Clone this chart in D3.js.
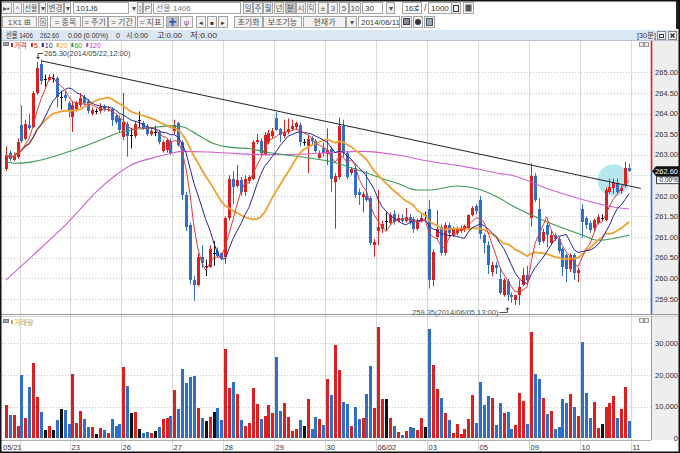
<!DOCTYPE html>
<html><head><meta charset="utf-8">
<script src="https://cdn.jsdelivr.net/npm/d3@7"></script>
<style>body{margin:0;background:#fff}svg{display:block}</style>
</head><body><svg id="c" width="680" height="453"></svg>
<script>
// ---------------- DATA ----------------
const dayLabels = ["05/21","05/22","23","26","27","28","29","30","06/02","03","05","09","10","11"];
const dayStarts = [0,4,17,30,43,56,69,82,95,108,121,134,147,160];

const opens = [262.65,263.05,262.88,262.95,263.72,263.38,263.72,263.68,264.50,265.20,
264.85,264.82,264.87,264.87,264.40,264.45,264.25,263.92,264.10,264.20,
264.40,264.30,264.00,264.05,264.05,264.18,264.08,264.10,263.95,263.90,
263.42,263.75,263.48,263.45,263.85,263.78,263.70,263.50,263.55,263.55,
263.10,263.12,263.33,263.57,263.76,263.30,262.02,261.29,259.95,259.83,
260.52,260.30,260.28,260.62,260.65,260.60,260.52,261.45,262.42,262.25,
262.38,262.10,262.35,262.42,263.30,263.33,263.00,263.30,263.45,263.88,
263.62,263.45,263.54,263.62,263.68,263.73,263.30,263.22,263.40,263.33,
262.93,263.15,263.01,263.13,262.34,262.46,263.70,263.03,262.55,262.67,
262.10,261.98,262.00,261.94,260.80,261.14,261.20,261.40,261.33,261.57,
261.40,261.47,261.40,261.49,261.43,261.20,261.38,261.53,261.67,259.95,
261.00,261.25,260.60,261.29,261.05,261.10,261.15,261.18,261.21,261.53,
261.75,261.90,261.05,260.80,260.15,260.32,259.98,259.60,259.93,259.60,
259.48,259.59,259.83,260.08,261.45,262.49,261.68,260.90,261.30,260.85,
261.05,260.95,260.70,260.56,260.23,260.56,260.12,261.69,261.45,261.33,
261.21,261.33,261.45,261.41,262.10,262.20,262.30,262.12,262.26,262.67];
const highs = [263.20,263.10,263.05,263.40,264.20,263.85,264.00,264.55,265.25,265.30,
264.95,264.95,264.95,264.90,264.55,264.55,264.30,264.30,264.30,264.50,
264.45,264.35,264.15,264.12,264.25,264.22,264.18,264.15,264.00,263.95,
264.50,263.80,263.65,263.80,264.05,263.82,263.75,263.62,263.70,263.60,
263.35,263.40,263.40,263.85,263.80,263.35,262.10,261.35,260.05,260.60,
260.80,260.45,260.80,260.90,260.75,260.62,261.50,262.50,262.60,262.75,
262.45,262.50,262.50,263.35,263.50,263.40,263.55,263.60,263.65,264.03,
263.65,263.85,263.88,263.85,263.80,263.78,263.38,263.48,263.45,263.38,
263.10,263.30,263.64,263.20,262.55,263.90,263.85,263.10,262.70,262.75,
262.18,262.10,262.60,262.00,260.95,262.15,261.40,261.60,261.60,261.65,
261.55,261.55,261.70,261.55,261.48,261.45,261.55,261.62,261.90,260.70,
261.65,261.30,261.35,261.35,261.25,261.25,261.28,261.30,261.55,261.75,
261.80,262.00,261.10,260.90,260.40,260.40,260.25,260.00,259.98,259.65,
259.60,259.95,260.25,260.30,262.79,262.55,261.94,261.20,261.35,261.15,
261.10,261.00,260.75,260.60,260.60,260.60,260.25,261.80,261.50,261.40,
261.45,261.55,261.55,262.20,262.42,262.42,262.42,262.25,262.83,262.78];
const lows = [262.60,262.85,262.85,262.90,263.28,263.35,263.60,263.65,264.45,264.70,
264.65,264.80,264.75,264.15,264.10,264.30,263.90,263.55,264.05,264.15,
264.20,264.00,263.95,263.98,264.00,264.05,264.05,263.70,263.75,263.55,
263.35,262.95,263.15,263.40,263.65,263.60,263.45,263.45,263.45,263.25,
263.05,263.05,263.00,263.50,263.20,261.90,261.15,259.85,259.45,259.80,
260.25,260.05,260.25,260.30,260.50,260.45,260.35,261.40,261.80,262.20,
262.00,262.00,262.30,262.38,263.25,263.00,262.98,263.25,263.40,263.58,
263.30,263.40,263.50,263.60,263.60,263.20,263.22,262.55,263.25,263.05,
262.90,262.95,262.75,262.10,261.20,262.40,262.95,262.40,262.50,261.95,
261.78,261.60,261.85,260.80,260.52,260.80,261.10,261.15,261.30,261.30,
261.35,261.35,261.35,261.30,261.10,261.15,261.35,261.42,259.75,259.80,
260.95,260.55,260.55,261.00,261.00,261.05,261.10,261.12,261.18,261.50,
261.55,260.95,260.60,260.10,260.05,260.10,259.60,259.55,259.45,259.40,
259.35,259.35,259.80,259.90,261.25,261.85,260.80,260.85,260.75,260.80,
260.90,260.60,260.05,259.90,260.15,259.95,259.90,260.98,261.20,261.10,
261.15,261.30,261.40,261.38,262.05,262.05,262.05,262.05,262.20,262.58];
const closes = [262.99,262.90,262.98,263.30,263.33,263.75,263.65,264.50,265.10,264.78,
264.85,264.88,264.87,264.40,264.40,264.38,264.05,264.20,264.25,264.38,
264.25,264.05,264.08,264.05,264.15,264.10,264.12,263.85,263.80,263.60,
263.80,263.45,263.48,263.75,263.85,263.65,263.50,263.58,263.55,263.30,
263.30,263.35,263.03,263.73,263.23,262.02,261.25,259.95,259.83,260.52,
260.36,260.30,260.72,260.62,260.55,260.50,261.45,262.42,262.22,262.38,
262.10,262.42,262.45,263.30,263.35,263.03,263.48,263.52,263.57,263.60,
263.48,263.54,263.62,263.70,263.76,263.30,263.30,263.38,263.32,263.10,
263.05,263.03,263.11,262.42,262.48,263.70,263.03,262.46,262.64,262.02,
262.02,262.04,261.90,260.85,260.87,261.25,261.32,261.40,261.53,261.37,
261.47,261.39,261.49,261.37,261.20,261.40,261.47,261.53,259.95,260.64,
261.20,260.60,261.29,261.09,261.19,261.20,261.22,261.26,261.53,261.71,
261.62,261.08,260.85,260.32,260.32,260.24,259.64,259.95,259.59,259.55,
259.58,259.79,260.08,259.96,262.49,261.90,260.88,261.13,261.05,261.05,
260.95,260.67,260.27,260.23,260.56,260.12,260.20,261.37,261.29,261.17,
261.41,261.49,261.45,262.14,262.22,262.30,262.10,262.18,262.67,262.60];
const volumes = [10500,7400,7400,4000,20000,6300,16100,23900,12900,8200,
2600,4000,2600,5800,9300,8900,4500,20300,4900,8700,
6100,3500,3500,1300,3200,2600,1800,6100,3900,4500,
22600,16500,7900,8200,2900,1800,2100,1800,2400,3600,
6100,6300,7100,15100,9200,21900,17600,19300,19700,9700,
6500,5500,6800,8400,9500,5800,28200,15800,17800,14000,
5800,3900,4700,15800,10800,6100,7100,10400,7900,25800,
8600,11100,6600,2300,2900,5800,3900,12400,2900,6600,
6000,4200,18800,13600,29500,21600,11600,10800,3900,9800,
6000,6300,13900,22900,9700,35000,12300,12300,6500,3900,
1900,1200,2400,3500,3300,2600,6300,3500,34400,23200,
15700,12600,7900,5800,1800,4500,1300,2800,6100,13800,
4700,17700,10500,13400,12800,4200,11100,7900,8200,2800,
4200,14200,11900,4400,33700,20200,18800,12600,7600,8600,
2900,3700,12400,11100,14000,10000,7100,30500,14400,6300,
11600,3400,4500,9900,11100,13400,6300,9200,16300,5500];
// longer moving averages as [bar index, value]
const ma60Pts = [[0,262.83],[3,262.79],[7,262.83],[16,263.07],[24,263.35],[29,263.54],[32,263.60],[37,263.65],[42,263.70],[45,263.68],[49,263.48],[53,263.27],[58,263.17],[62,263.15],[66,263.07],[75,262.95],[83,262.83],[91,262.59],[96,262.42],[100,262.30],[105,262.14],[108,262.14],[115,262.24],[120,262.18],[126,261.94],[129,261.77],[138,261.37],[147,261.05],[151,260.92],[159,261.05]];
const ma120Pts = [[0,259.95],[7,260.56],[16,261.37],[24,262.18],[28,262.50],[32,262.75],[37,262.91],[42,263.03],[45,263.08],[53,263.06],[66,263.00],[75,263.01],[83,263.05],[91,263.08],[100,262.99],[108,262.84],[117,262.71],[121,262.64],[126,262.54],[129,262.50],[138,262.18],[146,261.94],[155,261.73],[159,261.68]];
const priceTicks = [259.5,260.0,260.5,261.0,261.5,262.0,262.5,263.0,263.5,264.0,264.5,265.0];
const volTicks = [0,10000,20000,30000];
const trendPts = [[9,265.28],[162,262.18]];
const highNote = {idx:9, price:265.30, text:"265.30(2014/05/22,12:00)"};
const lowNote = {idx:130, price:259.35, text:"259.35(2014/06/05,13:00)"};
const focusMark = {idx:155, price:262.38};
const maPeriods = [5,10,20];
const legendItems = [["가격","#d01818"],["5","#e02020"],["10","#2020a0"],["20","#f0a020"],["60","#2a9a4a"],["120","#c040c0"]];

// ---------------- SETUP ----------------
const FONT = '"Liberation Sans","Noto Sans CJK KR",sans-serif';
const RED="#dc2020", BLUE="#2f6fc8", BLK="#111";
const svg = d3.select("#c").attr("font-family", FONT);
svg.append("rect").attr("width",680).attr("height",453).attr("fill","#fff");
const defs = svg.append("defs");
defs.append("clipPath").attr("id","cp").append("rect").attr("x",2).attr("y",40).attr("width",649).attr("height",274);
defs.append("clipPath").attr("id","cv").append("rect").attr("x",2).attr("y",316).attr("width",649).attr("height",124);

const N = closes.length;
const x = d3.scaleLinear().domain([0, N-1]).range([5.8, 5.8 + 3.92*(N-1)]);
const y = d3.scaleLinear().domain([259.2, 265.8]).range([311.1, 39.4]);
const yv = d3.scaleLinear().domain([0, 38000]).range([438.3, 318]);
const data = closes.map((c,i)=>({i, o:opens[i], h:highs[i], l:lows[i], c, v:volumes[i]}));
const colOf = d => d.c > d.o ? RED : (d.c < d.o ? BLUE : BLK);

// ---------------- TOOLBAR ----------------
function fitText(t, maxw){ const w=t.node().getComputedTextLength(); if(w>maxw) t.attr("textLength",maxw).attr("lengthAdjust","spacingAndGlyphs"); }
function btn(x0,y0,w,h,label,opt={}){
  const g = svg.append("g");
  g.append("rect").attr("x",x0+.5).attr("y",y0+.5).attr("width",w-1).attr("height",h-1)
    .attr("fill", opt.input?"#fff":(opt.pressed?"#c2c2c2":"#f2f2f2")).attr("stroke", opt.nob?"none":"#a4a4a4");
  if(label){
    const t = g.append("text").attr("x", opt.input? x0+3 : x0+w/2).attr("y", y0+h/2+3)
      .attr("text-anchor", opt.input?"start":"middle").attr("font-size", opt.fs||8).attr("fill", opt.color||"#555").text(label);
    fitText(t, w-(opt.pad||3));
  }
  return g;
}
const row1=[[1,11,"▸▪"],[13,9,"^"],[23,16,"선물"],[39,7,"▾"],[47,17,"변경"],[64,7,"▾"],[73,56,"101J6",{input:1,color:"#333"}],[130,7,"▾",{nob:1}],[137,6,"Q"],[143,9,"P"],[153,88,"선물 1406",{input:1,color:"#777"}],
 [243,10,"일"],[253,10,"주"],[263,10,"월"],[274,10,"년"],[285,11,"분",{pressed:1}],[296,10,"시"],[307,9,"틱"],[318,10,"±"],[328,10,"3"],[339,10,"5"],[349,12,"10"],[362,21,"30",{input:1,color:"#333"}],[386,9,"▾"],[402,20,"163",{input:1,color:"#333",pad:8}],[428,24,"1000",{input:1,color:"#333"}],[451,10,"",{}],[463,11,"",{}]];
row1.forEach(b=>btn(b[0],2,b[1],12,b[2],b[3]||{}));
svg.append("text").attr("x",424).attr("y",11).attr("font-size",9).attr("fill","#555").text("/");
svg.append("path").attr("d","M416,7 l3,0 l-1.5,-2.5z M416,9 l3,0 l-1.5,2.5z").attr("fill","#555");
svg.append("rect").attr("x",453.5).attr("y",5.5).attr("width",5).attr("height",6).attr("fill","none").attr("stroke","#333");
svg.append("rect").attr("x",465.5).attr("y",4.5).attr("width",6).attr("height",7).attr("fill","#555");
const row2=[[2,35,"1X1  ⊞"],[38,10,"⊠"],[50,31,"= 종목"],[82,26,"= 주기"],[108,28,"= 기간"],[137,27,"= 지표"],[166,13,"✚",{pressed:1,color:"#2a5cc0"}],[180,13,"ψ",{color:"#668"}],[196,10,"◂",{color:"#333",fs:7}],[207,10,"■",{color:"#333",fs:6}],[218,10,"▸",{color:"#333",fs:7}],
 [234,29,"초기화"],[263,39,"보조기능"],[303,43,"현재가"],[346,11,"▾"],[358,42,"2014/06/11",{input:1,color:"#333"}],[401,11,""],[413,10,""],[424,11,""]];
row2.forEach(b=>btn(b[0],16,b[1],12,b[2],b[3]||{}));
svg.append("rect").attr("x",403.5).attr("y",18.5).attr("width",6).attr("height",6).attr("fill","#889").attr("stroke","#445");
svg.append("circle").attr("cx",418).attr("cy",22).attr("r",3).attr("fill","#333");
svg.append("rect").attr("x",426.5).attr("y",18.5).attr("width",6).attr("height",7).attr("fill","#9ab").attr("stroke","#456");
svg.append("rect").attr("x",676).attr("y",0).attr("width",4).attr("height",29).attr("fill","#222");

// info row
svg.append("rect").attr("x",0).attr("y",30).attr("width",680).attr("height",10).attr("fill","#dce7f4");
svg.append("line").attr("x1",0).attr("x2",680).attr("y1",40.5).attr("y2",40.5).attr("stroke","#b8c4d2");
const lastC = closes[N-1];
const info=[[6,"선물 1406",27],[40,lastC.toFixed(2),19],[68,"0.00 (0.00%)",40],[116,"0",4],[126,"시:0.00",22],[157,"고:0.00",25],[190,"저:0.00",27]];
info.forEach(d=>{ const t=svg.append("text").attr("x",d[0]).attr("y",38.3).attr("font-size",8).attr("fill","#333").text(d[1]); t.attr("textLength",d[2]).attr("lengthAdjust","spacingAndGlyphs"); });
{ const t=svg.append("text").attr("x",637).attr("y",38.3).attr("font-size",8).attr("fill","#333").text("[30분]"); fitText(t,19);
  svg.append("rect").attr("x",657.5).attr("y",31.5).attr("width",8).attr("height",8).attr("fill","#f4f4f4").attr("stroke","#888");
  svg.append("rect").attr("x",659.5).attr("y",34.5).attr("width",4).attr("height",3).attr("fill","none").attr("stroke","#333");
  svg.append("rect").attr("x",668.5).attr("y",31.5).attr("width",8).attr("height",8).attr("fill","#f4f4f4").attr("stroke","#888");
  svg.append("path").attr("d","M670.5,33.5 l4,4 M674.5,33.5 l-4,4").attr("stroke","#222").attr("stroke-width",1.2); }

// ---------------- AXIS AREAS ----------------
svg.append("rect").attr("x",651).attr("y",41).attr("width",28).attr("height",399).attr("fill","#eeeeee");
const boundX = dayStarts.slice(1).map(s=>x(s-0.5));
svg.append("g").selectAll("line").data(boundX).join("line")
  .attr("x1",d=>Math.round(d)+.5).attr("x2",d=>Math.round(d)+.5).attr("y1",41).attr("y2",451)
  .attr("stroke","#d8d8d8");
svg.append("g").selectAll("line").data(priceTicks).join("line")
  .attr("x1",2).attr("x2",651).attr("y1",d=>Math.round(y(d))+.5).attr("y2",d=>Math.round(y(d))+.5)
  .attr("stroke","#c8c8c8").attr("stroke-dasharray","1,2");
svg.append("g").selectAll("line").data(volTicks.slice(1)).join("line")
  .attr("x1",2).attr("x2",651).attr("y1",d=>Math.round(yv(d))+.5).attr("y2",d=>Math.round(yv(d))+.5)
  .attr("stroke","#c8c8c8").attr("stroke-dasharray","1,2");
svg.append("line").attr("x1",1).attr("x2",680).attr("y1",314.5).attr("y2",314.5).attr("stroke","#9a9a9a");
svg.append("line").attr("x1",1).attr("x2",680).attr("y1",316.5).attr("y2",316.5).attr("stroke","#d0d0d0");
svg.append("line").attr("x1",1).attr("x2",651).attr("y1",440.5).attr("y2",440.5).attr("stroke","#b0b0b0");

// ---------------- PRICE PANEL ----------------
const gp = svg.append("g").attr("clip-path","url(#cp)");
gp.append("circle").attr("cx",x(focusMark.idx)).attr("cy",y(focusMark.price)).attr("r",16).attr("fill","#a9e3ec").attr("opacity",0.85);
const cg = gp.append("g");
cg.selectAll("line").data(data).join("line")
  .attr("x1",d=>Math.round(x(d.i))+.5).attr("x2",d=>Math.round(x(d.i))+.5)
  .attr("y1",d=>y(d.h)).attr("y2",d=>y(d.l)).attr("stroke",colOf);
cg.selectAll("rect").data(data).join("rect")
  .attr("x",d=>Math.round(x(d.i))-1).attr("width",3)
  .attr("y",d=>Math.min(y(d.o),y(d.c))).attr("height",d=>Math.max(1,Math.abs(y(d.o)-y(d.c))))
  .attr("fill",colOf).attr("shape-rendering","crispEdges");
const line = d3.line().x(d=>x(d[0])).y(d=>y(d[1]));
const maColors = {5:"#e03a3a",10:"#25259a",20:"#f0a030"};
gp.append("path").datum(ma120Pts).attr("d",line.curve(d3.curveMonotoneX)).attr("fill","none").attr("stroke","#d060d0").attr("stroke-width",1.1);
gp.append("path").datum(ma60Pts).attr("d",line.curve(d3.curveMonotoneX)).attr("fill","none").attr("stroke","#3a9a55").attr("stroke-width",1.1);
maPeriods.slice().reverse().forEach(n=>{
  const vals = closes.map((c,i)=>[i, d3.mean(closes.slice(Math.max(0,i-n+1), i+1))]);
  gp.append("path").datum(vals).attr("d",line.curve(d3.curveLinear)).attr("fill","none")
    .attr("stroke",maColors[n]).attr("stroke-width", n===20?1.8:1);
});
gp.append("line").attr("x1",x(trendPts[0][0])).attr("y1",y(trendPts[0][1])).attr("x2",x(trendPts[1][0])).attr("y2",y(trendPts[1][1]))
  .attr("stroke","#222").attr("stroke-width",1);
// high / low annotations
{ const hx=x(highNote.idx), hy=y(highNote.price);
  svg.append("path").attr("d",`M${hx+2},${hy-6.5} H${hx-3} V${hy-2.5}`).attr("fill","none").attr("stroke","#444");
  svg.append("path").attr("d",`M${hx-5},${hy-3} h4 l-2,2.5z`).attr("fill","#444");
  svg.append("text").attr("x",hx+3).attr("y",hy-3.6).attr("font-size",7.5).attr("fill","#444").text(highNote.text);
  const lx=x(lowNote.idx), ly=y(lowNote.price);
  svg.append("text").attr("x",lx-17).attr("y",ly+10).attr("text-anchor","end").attr("font-size",7.5).attr("fill","#555").text(lowNote.text);
  svg.append("path").attr("d",`M${lx-16},${ly+7.5} H${lx-8} V${ly+4}`).attr("fill","none").attr("stroke","#444");
  svg.append("path").attr("d",`M${lx-10},${ly+4.5} h4 l-2,-2.5z`).attr("fill","#444"); }
// legend
{ svg.append("rect").attr("x",3.5).attr("y",42.5).attr("width",5).attr("height",3).attr("fill","#9aa").attr("stroke","#778");
  let lx=11;
  legendItems.forEach(([t,c])=>{
    svg.append("rect").attr("x",lx).attr("y",43).attr("width",2).attr("height",4).attr("fill",c);
    const tt=svg.append("text").attr("x",lx+3).attr("y",47.5).attr("font-size",7).attr("fill",c).text(t);
    lx += 3 + tt.node().getComputedTextLength() + 4;
  });
  [639,644].forEach(px=>svg.append("rect").attr("x",px+.5).attr("y",42.5).attr("width",4).attr("height",4).attr("fill","#eee").attr("stroke","#999"));
  [639,644].forEach(px=>svg.append("rect").attr("x",px+.5).attr("y",318.5).attr("width",4).attr("height",4).attr("fill","#eee").attr("stroke","#999"));
}
// price axis
const yl = y(lastC);
svg.append("line").attr("x1",651.5).attr("x2",651.5).attr("y1",41).attr("y2",yl).attr("stroke","#e02020").attr("stroke-width",1.6);
svg.append("line").attr("x1",651.5).attr("x2",651.5).attr("y1",yl).attr("y2",314).attr("stroke","#2f6fc8").attr("stroke-width",1.6);
svg.append("line").attr("x1",651.5).attr("x2",651.5).attr("y1",316).attr("y2",440).attr("stroke","#999");
// tick labels hidden behind the current-price tag are not drawn (as in the reference)
svg.append("g").selectAll("text").data(priceTicks.filter(t=>Math.abs(y(t)-yl-3)>10)).join("text")
  .attr("x",678).attr("y",d=>y(d)+2.8).attr("text-anchor","end").attr("font-size",7.5).attr("fill","#333").text(d=>d.toFixed(2));
svg.append("path").attr("d",`M652,${yl} L656,${yl-5} H680 V${yl+5} H656 Z`).attr("fill","#111");
svg.append("text").attr("x",678).attr("y",yl+2.8).attr("text-anchor","end").attr("font-size",7.5).attr("fill","#fff").text(lastC.toFixed(2));
svg.append("rect").attr("x",656.5).attr("y",yl+5.5).attr("width",23).attr("height",7).attr("fill","#fff").attr("stroke","#444");
svg.append("text").attr("x",678).attr("y",yl+11.3).attr("text-anchor","end").attr("font-size",6.5).attr("fill","#222").text("0.00%");

// ---------------- VOLUME PANEL ----------------
const gv = svg.append("g").attr("clip-path","url(#cv)");
gv.selectAll("rect").data(data).join("rect")
  .attr("x",d=>Math.round(x(d.i))-1).attr("width",3)
  .attr("y",d=>yv(d.v)).attr("height",d=>yv(0)-yv(d.v)).attr("fill",colOf).attr("shape-rendering","crispEdges");
svg.append("g").selectAll("text").data(volTicks).join("text")
  .attr("x",678).attr("y",d=>yv(d)+2.8).attr("text-anchor","end").attr("font-size",7.5).attr("fill","#333").text(d3.format(","));
svg.append("rect").attr("x",3.5).attr("y",319.5).attr("width",5).attr("height",3).attr("fill","#9aa").attr("stroke","#778");
svg.append("rect").attr("x",11).attr("y",320).attr("width",2).attr("height",4).attr("fill","#c8b040");
svg.append("text").attr("x",14).attr("y",325).attr("font-size",7).attr("fill","#c0a838").text("거래량");

// ---------------- X AXIS ----------------
let lastLab = -100;
dayStarts.forEach((s,k)=>{
  const gx = k===0 ? 3 : Math.round(x(s-0.5))+1.5;
  if (gx - lastLab < 28) return;
  lastLab = gx;
  svg.append("text").attr("x",gx).attr("y",450).attr("font-size",7.5).attr("fill","#333").text(dayLabels[k]);
});

svg.append("rect").attr("x",0.75).attr("y",0.75).attr("width",678.5).attr("height",451.5).attr("fill","none").attr("stroke","#111").attr("stroke-width",1.5);
</script></body></html>
